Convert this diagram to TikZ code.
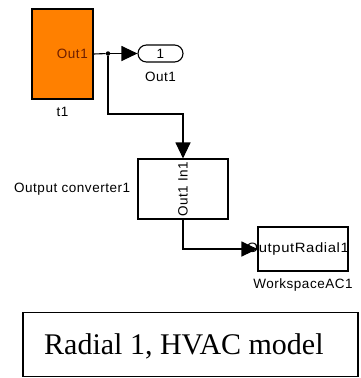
\documentclass[tikz,border=0pt]{standalone}
\usepackage{fontspec}
\newfontfamily\simfont[LetterSpace=4]{Liberation Sans}
\newfontfamily\capfont{Liberation Serif}
\usetikzlibrary{positioning,arrows.meta}
\definecolor{simorange}{RGB}{255,128,0}
\definecolor{simtext}{RGB}{110,30,0}
\tikzset{
  blk/.style={draw, line width=1.1pt, inner sep=0pt, font=\simfont\fontsize{13.5}{15}\selectfont},
  port/.style={draw, line width=1.1pt, rounded corners=8.5pt, minimum width=45pt,
               minimum height=17pt, inner sep=0pt, font=\simfont\fontsize{13.5}{15}\selectfont},
  lbl/.style={inner sep=0pt, font=\simfont\fontsize{13.5}{15}\selectfont},
  jdot/.style={circle, fill, inner sep=0pt, minimum size=4.5pt},
  sig/.style={line width=1.1pt},
  sigarr/.style={line width=1.1pt, -{Triangle[length=16pt,width=15pt]}},
}
\begin{document}
\begin{tikzpicture}[x=1pt, y=-1pt]
  \useasboundingbox (0,0) rectangle (360,378);
  % source block and root outport
  \node[blk, fill=simorange, minimum width=61pt, minimum height=90pt] (t1) at (62.5,54) {};
  \node[lbl, text=simtext, anchor=east] (t1out) at (88,53.5) {Out1};
  \node[lbl, below=7pt of t1] (t1name) {t1};
  \node[port] (out) at (160.5,53.5) {1};
  \node[lbl, below=9pt of out] (outname) {Out1};
  \node[jdot] (j) at (108,53.5) {};
  % converter and workspace sink
  \node[blk, minimum width=90pt, minimum height=60pt] (conv) at (183,189) {};
  \node[lbl, rotate=90] (convtxt) at (conv.center) {Out1 In1};
  \node[lbl, left=7pt of conv] (convname) {Output converter1};
  \node[blk, minimum width=90pt, minimum height=44pt] (ws) at (303,249) {};
  \node[lbl, anchor=east] (wstxt) at (349,249) {\scalebox{1.1}[1]{OutputRadial1}};
  \node[lbl, below=7pt of ws] (wsname) {WorkspaceAC1};
  \coordinate (bend) at (183,114);
  % signal lines
  \draw[sig] (t1.east) -- (j);
  \draw[sigarr] (j) -- (out.west);
  \draw[sigarr] (j) |- (bend) -- (conv.north);
  \draw[sigarr] (conv.south) |- (ws.west);
  % caption
  \node[draw, line width=1.4pt, minimum width=335pt, minimum height=64pt, inner sep=0pt] (cap) at (190.5,344.5) {};
  \node[anchor=base west, inner sep=0pt, font=\capfont\fontsize{30}{34}\selectfont] (captxt) at (44,354) {Radial 1, HVAC model};
\end{tikzpicture}
\end{document}
